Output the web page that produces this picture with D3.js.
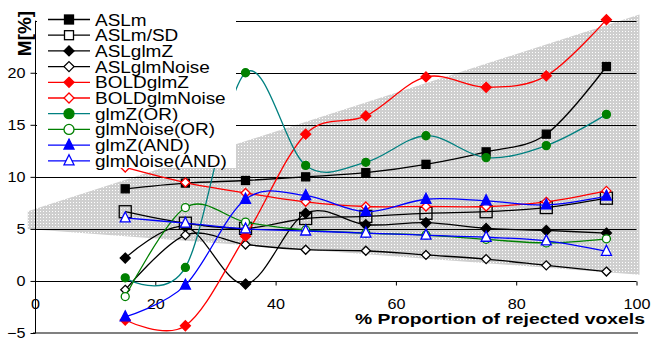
<!DOCTYPE html>
<html>
<head>
<meta charset="utf-8">
<script src="https://cdn.jsdelivr.net/npm/d3@7/dist/d3.min.js"></script>
<style>
  body { margin: 0; background: #fff; }
</style>
</head>
<body>
<div id="chart"></div>
<script>
// rejected proportion (%) at which each method was evaluated
const X = [15, 25, 35, 45, 55, 65, 75, 85, 95];

const ASLm          = [8.85, 9.4, 9.65, 10.0, 10.4, 11.2, 12.4, 14.1, 20.6];
const ASLmSD        = [6.65, 5.55, 5.05, 6.0, 6.2, 6.5, 6.65, 7.05, 7.95];
const ASLglmZ       = [2.2, 5.2, -0.3, 6.5, 5.4, 5.6, 5.05, 4.85, 4.6];
const ASLglmNoise   = [-0.85, 4.4, 3.5, 3.0, 2.9, 2.5, 2.1, 1.5, 0.9];
const BOLDglmZ      = [-3.75, -4.3, 4.3, 14.1, 15.85, 19.6, 18.6, 19.7, 25.1];
const BOLDglmNoise  = [10.9, 9.45, 8.45, 7.6, 7.15, 7.15, 7.15, 7.6, 8.65];
const glmZOR        = [0.3, 1.3, 20.0, 11.1, 11.4, 13.95, 11.85, 13.0, 16.0];
const glmNoiseOR    = [-1.5, 7.05, 5.65, 4.9, 4.6, 4.4, 4.0, 3.65, 4.05];
const glmZAND       = [-3.45, -0.4, 7.85, 8.2, 6.65, 7.85, 7.7, 7.3, 8.15];
const glmNoiseAND   = [6.05, 5.55, 5.0, 4.8, 4.6, 4.4, 4.2, 3.85, 2.85];

// grey band behind the curves (value at its left and right ends)
const bandX      = [-1.2, 100.5];
const bandTop    = [6.7, 25.6];
const bandBottom = [5.0, 0.6];

const xTicks = [0, 20, 40, 60, 80, 100];
const yTicks = [-5, 0, 5, 10, 15, 20];
const gridValues = [5, 10, 15, 20, 25];

const FONT = "'Liberation Sans', Arial, Helvetica, sans-serif";

const series = [
  {name: "ASLm",         values: ASLm,         line: "#000",    shape: "square",   fill: "#000",    stroke: "#000",    size: 8},
  {name: "ASLm/SD",      values: ASLmSD,       line: "#000",    shape: "square",   fill: "none",    stroke: "#000",    size: 12},
  {name: "ASLglmZ",      values: ASLglmZ,      line: "#000",    shape: "diamond",  fill: "#000",    stroke: "#000",    size: 10},
  {name: "ASLglmNoise",  values: ASLglmNoise,  line: "#000",    shape: "diamond",  fill: "#fff",    stroke: "#000",    size: 9},
  {name: "BOLDglmZ",     values: BOLDglmZ,     line: "#ff0000", shape: "diamond",  fill: "#ff0000", stroke: "#ff0000", size: 10},
  {name: "BOLDglmNoise", values: BOLDglmNoise, line: "#ff0000", shape: "diamond",  fill: "#fff",    stroke: "#ff0000", size: 9},
  {name: "glmZ(OR)",     values: glmZOR,       line: "#008080", shape: "circle",   fill: "#008000", stroke: "#008000", size: 8},
  {name: "glmNoise(OR)", values: glmNoiseOR,   line: "#008000", shape: "circle",   fill: "#fff",    stroke: "#008000", size: 8},
  {name: "glmZ(AND)",    values: glmZAND,      line: "#0000ff", shape: "triangle", fill: "#0000ff", stroke: "#0000ff", size: 10},
  {name: "glmNoise(AND)",values: glmNoiseAND,  line: "#0000ff", shape: "triangle", fill: "#fff",    stroke: "#0000ff", size: 10}
];

const width = 652, height = 339;

var svg = d3.select("#chart").append("svg")
    .attr("width", width).attr("height", height)
    .attr("font-family", FONT)
    .style("display", "block");

// horizontal stretch so a sample string gets the width seen in the picture
function stretchFor(sample, size, weight, target) {
  var t = svg.append("text").attr("font-size", size).attr("font-weight", weight)
      .attr("font-family", FONT).text(sample);
  var w = t.node().getComputedTextLength();
  t.remove();
  return w > 0 ? target / w : 1;
}

var xScale = d3.scaleLinear().domain([0, 100]).range([35, 636.5]);
var yScale = d3.scaleLinear().domain([-5, 25]).range([333, 20.7]);

// hatch pattern of the band
var pat = svg.append("defs").append("pattern")
    .attr("id", "dots").attr("patternUnits", "userSpaceOnUse")
    .attr("width", 3).attr("height", 3);
pat.append("rect").attr("width", 3).attr("height", 3).attr("fill", "#cfcfcf");
pat.append("rect").attr("x", 1).attr("y", 1).attr("width", 1).attr("height", 1).attr("fill", "#fff");

var band = d3.area()
    .x(function(d, i) { return xScale(bandX[i]); })
    .y0(function(d, i) { return yScale(bandBottom[i]); })
    .y1(function(d, i) { return yScale(bandTop[i]); });

svg.append("path")
    .datum(bandX)
    .attr("d", band)
    .attr("fill", "url(#dots)");

// grid lines
svg.append("g").selectAll("line")
    .data(gridValues)
    .enter().append("line")
    .attr("x1", xScale(0)).attr("x2", xScale(100))
    .attr("y1", function(d) { return Math.round(yScale(d)) + 0.5; })
    .attr("y2", function(d) { return Math.round(yScale(d)) + 0.5; })
    .attr("stroke", "#000").attr("stroke-width", 1);

// bottom border of plot
svg.append("line")
    .attr("x1", 33).attr("x2", 638)
    .attr("y1", yScale(-5)).attr("y2", yScale(-5))
    .attr("stroke", "#808080").attr("stroke-width", 2.2);

// axes
var xAxis = d3.axisBottom(xScale).tickValues(xTicks).tickSize(4).tickFormat(d3.format("d"));
var yAxis = d3.axisLeft(yScale).tickValues(yTicks).tickSize(5).tickFormat(d3.format("d"));

var kx = stretchFor("60", 15, "normal", 18);
var gx = svg.append("g")
    .attr("transform", "translate(0," + (Math.round(yScale(0)) + 0.5) + ")")
    .call(xAxis)
    .attr("font-family", FONT);
gx.select(".domain").attr("d", "M" + xScale(0) + ",0H" + xScale(100)).attr("stroke", "#000");
gx.selectAll(".tick text")
    .attr("font-size", 15).attr("fill", "#000").attr("dy", null).attr("y", null)
    .attr("transform", "translate(0,27) scale(" + kx + ",1)");

var ky = stretchFor("20", 14, "normal", 18);
var gy = svg.append("g")
    .attr("transform", "translate(" + (Math.round(xScale(0)) + 0.5) + ",0)")
    .call(yAxis)
    .attr("font-family", FONT);
gy.select(".domain").attr("d", "M0," + yScale(25) + "V" + yScale(-5)).attr("stroke", "#000");
gy.selectAll(".tick text").attr("font-size", 14).attr("fill", "#000").attr("x", null)
    .attr("transform", "translate(-10,0) scale(" + ky + ",1)");

svg.selectAll(".tick line").attr("stroke", "#000");

// marker shapes
function marker(sel, s, size) {
  if (s.shape === "square") {
    sel.append("rect")
      .attr("x", -size / 2).attr("y", -size / 2)
      .attr("width", size).attr("height", size)
      .attr("fill", s.fill).attr("stroke", s.stroke).attr("stroke-width", 1.3);
    return;
  }
  if (s.shape === "diamond") {
    var h = size / 2;
    sel.append("path").attr("d", "M0," + (-h) + "L" + h + ",0L0," + h + "L" + (-h) + ",0Z")
      .attr("fill", s.fill).attr("stroke", s.stroke).attr("stroke-width", 1.3);
    return;
  }
  if (s.shape === "circle") {
    sel.append("circle").attr("r", size / 2)
      .attr("fill", s.fill).attr("stroke", s.stroke).attr("stroke-width", 1.3);
    return;
  }
  var r = size / 2;
  sel.append("path").attr("d", "M0," + (-r - 1) + "L" + r + "," + (r - 1) + "L" + (-r) + "," + (r - 1) + "Z")
    .attr("fill", s.fill).attr("stroke", s.stroke).attr("stroke-width", 1.3);
}

var line = d3.line()
    .x(function(d, i) { return xScale(X[i]); })
    .y(function(d) { return yScale(d); })
    .curve(d3.curveCardinal.tension(0));

var plot = svg.append("g");
for (var s of series) {
  var g = plot.append("g");
  g.append("path")
    .datum(s.values)
    .attr("d", line)
    .attr("fill", "none")
    .attr("stroke", s.line)
    .attr("stroke-width", 1.3);
  for (var i = 0; i < X.length; i++) {
    var m = g.append("g").attr("transform", "translate(" + xScale(X[i]) + "," + yScale(s.values[i]) + ")");
    marker(m, s, s.size);
  }
}

// legend
var kl = stretchFor("ASLglmNoise", 17, "normal", 115);
var leg = svg.append("g");
leg.append("rect").attr("x", 37).attr("y", 0).attr("width", 199).attr("height", 168).attr("fill", "#fff");
series.forEach(function(s, i) {
  var y = 19.5 + i * 15.7;
  var row = leg.append("g");
  row.append("line").attr("x1", 48).attr("x2", 90).attr("y1", y).attr("y2", y)
    .attr("stroke", s.line).attr("stroke-width", 1.3);
  var m = row.append("g").attr("transform", "translate(69," + y + ")");
  marker(m, s.fill === "none" ? Object.assign({}, s, {fill: "#fff"}) : s, s.shape === "square" ? 9 : 10);
  row.append("text")
    .attr("transform", "translate(95," + (y + 6) + ") scale(" + kl + ",1)")
    .attr("font-size", 17)
    .attr("font-family", FONT)
    .text(s.name);
});

// titles
svg.append("text")
    .attr("transform", "translate(31,33.5) rotate(-90)")
    .attr("text-anchor", "middle")
    .attr("font-size", 19).attr("font-weight", "bold")
    .attr("font-family", FONT)
    .text("M[%]");

svg.append("text")
    .attr("x", 355).attr("y", 324)
    .attr("font-size", 14).attr("font-weight", "bold")
    .attr("font-family", FONT)
    .attr("textLength", 290).attr("lengthAdjust", "spacingAndGlyphs")
    .text("% Proportion of rejected voxels");
</script>
</body>
</html>
